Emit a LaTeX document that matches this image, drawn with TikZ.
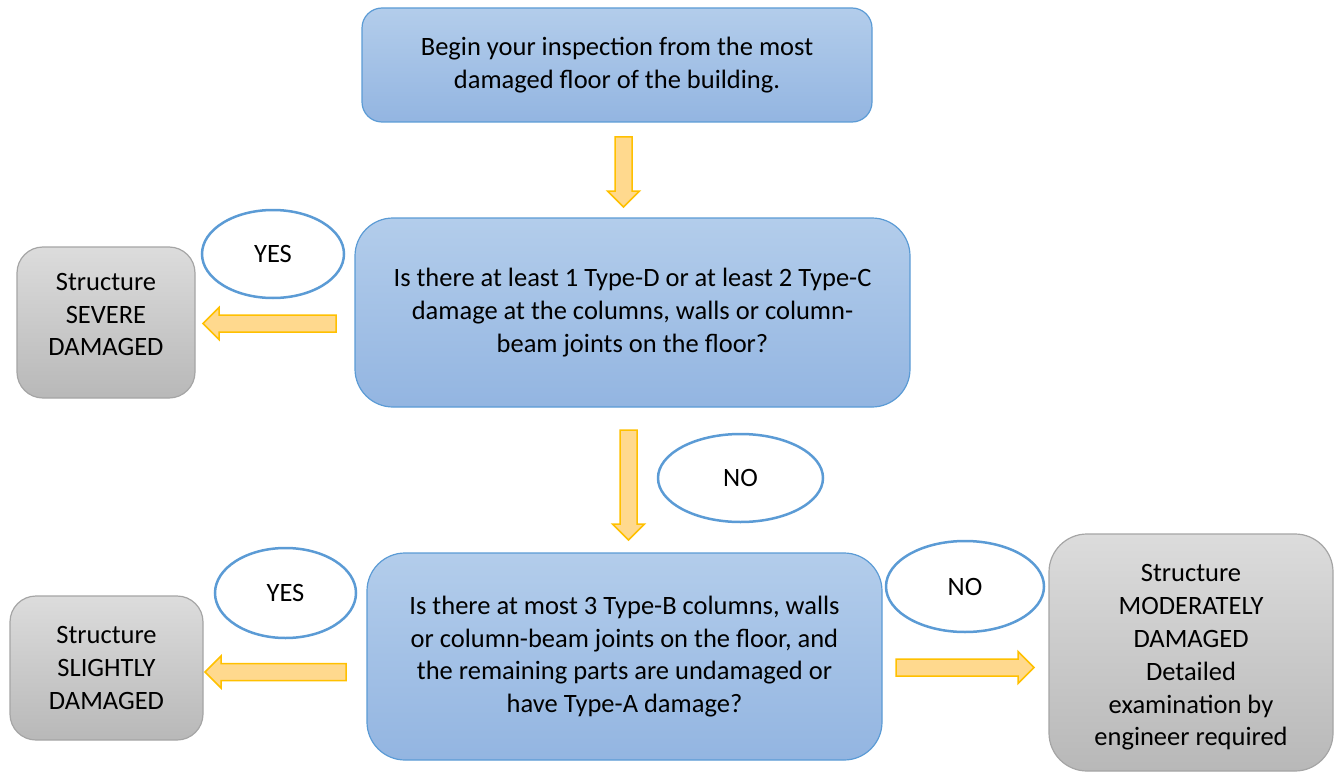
\documentclass[tikz,border=0pt]{standalone}
\usepackage{fontspec}
\setmainfont{Carlito}
\usetikzlibrary{shapes.geometric}
\definecolor{bluetop}{HTML}{B3CDEB}
\definecolor{bluebot}{HTML}{93B5E1}
\definecolor{blueline}{HTML}{5B9BD5}
\definecolor{greytop}{HTML}{DCDCDC}
\definecolor{greybot}{HTML}{B8B8B8}
\definecolor{greyline}{HTML}{A5A5A5}
\definecolor{arrowfill}{HTML}{FFD98E}
\definecolor{arrowline}{HTML}{FFC000}
\tikzset{
  bluebox/.style={draw=blueline, line width=1.2pt, top color=bluetop, bottom color=bluebot, align=center, inner sep=0pt},
  greybox/.style={draw=greyline, line width=1.2pt, top color=greytop, bottom color=greybot, align=center, inner sep=0pt},
  answer/.style={ellipse, draw=blueline, line width=2.5pt, fill=white, inner sep=0pt},
  barrow/.style={draw=arrowline, fill=arrowfill, line width=1.5pt, line join=miter},
}
\newcommand\BlockArrow[4]{% x, y, length, rotation
  \draw[barrow, shift={(#1,#2)}, rotate=#4] (0,-8.5) -- (#3-16,-8.5) -- (#3-16,-16) -- (#3,0) -- (#3-16,16) -- (#3-16,8.5) -- (0,8.5) -- cycle;}
\begin{document}
\begin{tikzpicture}[x=1pt,y=-1pt, font=\fontsize{26.5}{32.8}\selectfont]
\useasboundingbox (0,0) rectangle (1338,773);
\node[bluebox, rounded corners=20pt, minimum width=510pt, minimum height=114pt] (start) at (617,65)
  {Begin your inspection from the most\\damaged floor of the building.};
\node[bluebox, rounded corners=38pt, minimum width=555pt, minimum height=189pt] (q1) at (632.5,312.5)
  {Is there at least 1 Type-D or at least 2 Type-C\\damage at the columns, walls or column-\\beam joints on the floor?};
\node[bluebox, rounded corners=38pt, minimum width=515pt, minimum height=207pt] (q2) at (624.5,656.5)
  {Is there at most 3 Type-B columns, walls\\or column-beam joints on the floor, and\\the remaining parts are undamaged or\\have Type-A damage?};
\node[greybox, rounded corners=26pt, minimum width=178pt, minimum height=151pt] (severe) at (106,322.5) {};
\node[align=center] (severetxt) at (106,314.5) {Structure\\SEVERE\\DAMAGED};
\node[greybox, rounded corners=26pt, minimum width=193pt, minimum height=144pt] (slight) at (106.5,668)
  {Structure\\SLIGHTLY\\DAMAGED};
\node[greybox, rounded corners=38pt, minimum width=284pt, minimum height=237pt] (moderate) at (1191,652.5) {};
\node[align=center] (moderatetxt) at (1191,657.5) {Structure\\MODERATELY\\DAMAGED\\Detailed\\examination by\\engineer required};
\node[answer, minimum width=142pt, minimum height=88pt] (yes1) at (273,254) {YES};
\node[answer, minimum width=165pt, minimum height=88pt] (no1) at (740.5,478) {NO};
\node[answer, minimum width=141pt, minimum height=90pt] (yes2) at (285.5,593) {YES};
\node[answer, minimum width=158pt, minimum height=91pt] (no2) at (965,586.5) {NO};
\BlockArrow{623.5}{137}{70}{-90}
\BlockArrow{628.5}{430}{110}{-90}
\BlockArrow{336}{323.5}{133}{180}
\BlockArrow{346}{672}{141}{180}
\BlockArrow{896}{667.5}{138}{0}
\end{tikzpicture}
\end{document}
